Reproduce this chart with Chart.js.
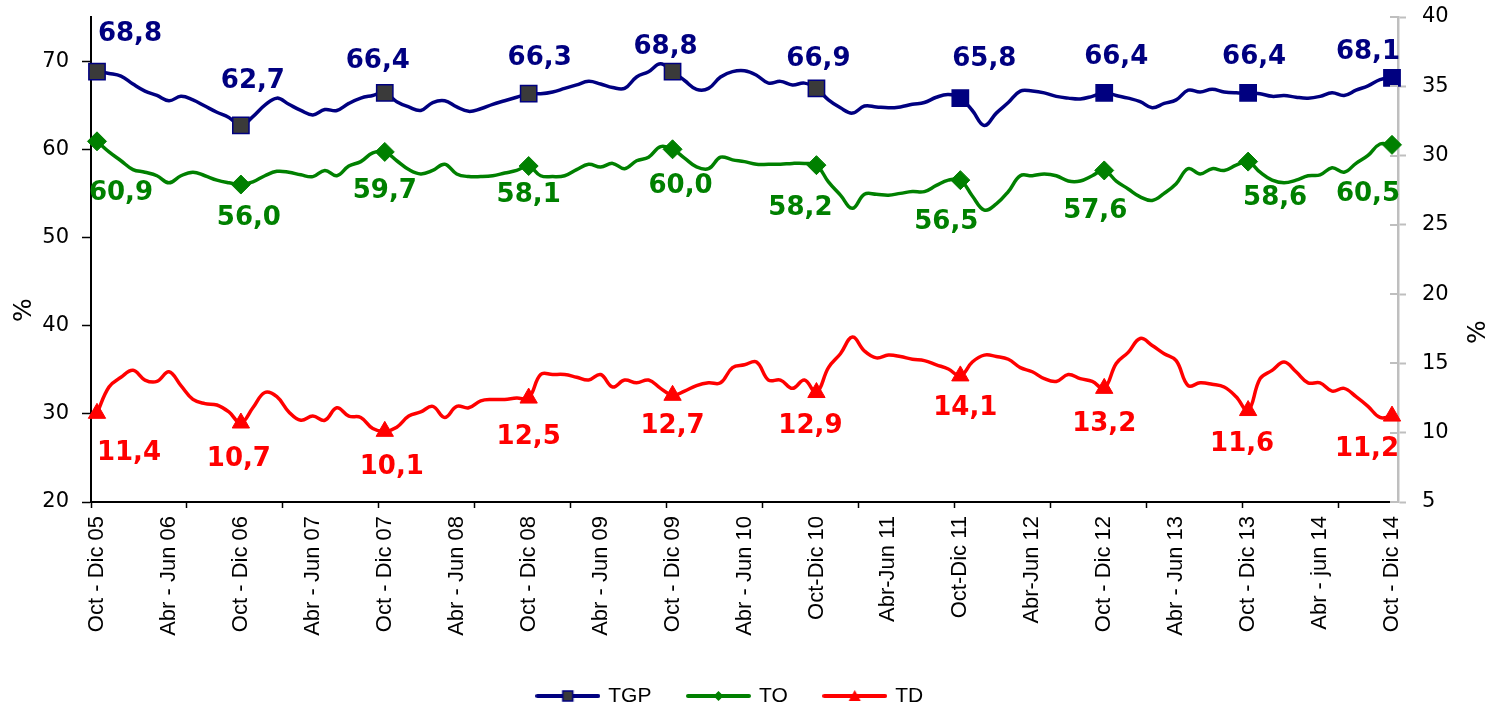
<!DOCTYPE html>
<html lang="es">
<head>
<meta charset="utf-8">
<title>TGP, TO y TD</title>
<script src="https://cdn.jsdelivr.net/npm/chart.js@4.4.1/dist/chart.umd.min.js"></script>
<style>
  html, body { margin: 0; padding: 0; background: #fff; }
  #wrap { position: relative; width: 1491px; height: 707px; }
</style>
</head>
<body>
<div id="wrap"><canvas id="chart"></canvas></div>
<script>
// Etiquetas visibles del eje X (una cada 6 trimestres móviles)
const tickLabels = [
    'Oct - Dic 05', 'Abr - Jun 06', 'Oct - Dic 06', 'Abr - Jun 07', 'Oct - Dic 07',
    'Abr - Jun 08', 'Oct - Dic 08', 'Abr - Jun 09', 'Oct - Dic 09', 'Abr - Jun 10',
    'Oct-Dic 10', 'Abr-Jun 11', 'Oct-Dic 11', 'Abr-Jun 12', 'Oct - Dic 12',
    'Abr - Jun 13', 'Oct - Dic 13', 'Abr - jun 14', 'Oct - Dic 14'
];

// Tasa global de participación (eje izquierdo)
const tgp = [
    68.8, 68.6, 68.3, 67.4, 66.6, 66.1, 65.5, 66.0, 65.6, 64.9, 64.2, 63.6,
    62.7, 63.7, 65.0, 65.8, 65.1, 64.4, 63.9, 64.5, 64.4, 65.2, 65.8, 66.1,
    66.4, 65.4, 64.8, 64.4, 65.3, 65.5, 64.8, 64.3, 64.6, 65.1, 65.5, 65.9,
    66.3, 66.3, 66.5, 66.9, 67.3, 67.7, 67.4, 67.0, 66.9, 68.2, 68.8, 69.7,
    68.8, 67.8, 66.8, 66.9, 68.2, 68.8, 68.9, 68.4, 67.5, 67.7, 67.3, 67.5,
    66.9, 65.6, 64.7, 64.1, 64.9, 64.8, 64.7, 64.8, 65.1, 65.3, 65.9, 66.2,
    65.8, 64.4, 62.7, 64.1, 65.3, 66.6, 66.6, 66.4, 66.0, 65.8, 65.7, 66.0,
    66.4, 66.1, 65.8, 65.4, 64.7, 65.2, 65.6, 66.7, 66.5, 66.8, 66.5, 66.4,
    66.4, 66.3, 66.0, 66.1, 65.9, 65.8, 66.0, 66.4, 66.1, 66.7, 67.2, 67.9,
    68.1
];

// Tasa de ocupación (eje izquierdo)
const to = [
    60.9, 59.7, 58.7, 57.7, 57.4, 57.0, 56.2, 57.0, 57.4, 57.0, 56.5, 56.2,
    56.0, 56.3, 57.0, 57.5, 57.4, 57.1, 56.9, 57.6, 57.0, 58.1, 58.6, 59.6,
    59.7, 58.7, 57.7, 57.2, 57.6, 58.3, 57.2, 56.9, 56.9, 57.0, 57.3, 57.6,
    58.1, 57.0, 56.9, 57.0, 57.7, 58.3, 58.0, 58.4, 57.8, 58.7, 59.1, 60.3,
    60.0, 59.0, 58.0, 57.8, 59.1, 58.8, 58.6, 58.3, 58.3, 58.3, 58.4, 58.4,
    58.2, 56.3, 54.8, 53.3, 54.9, 54.9, 54.8, 55.0, 55.2, 55.2, 55.9, 56.5,
    56.5, 54.7, 53.1, 53.8, 55.2, 57.0, 57.0, 57.2, 57.0, 56.4, 56.4, 57.0,
    57.6, 56.4, 55.5, 54.6, 54.2, 55.0, 56.1, 57.8, 57.2, 57.8, 57.6, 58.2,
    58.6, 57.4, 56.5, 56.2, 56.5, 57.0, 57.1, 57.9, 57.4, 58.4, 59.3, 60.6,
    60.5
];

// Tasa de desempleo (eje derecho)
const td = [
    11.4, 13.3, 14.0, 14.5, 13.8, 13.7, 14.4, 13.4, 12.4, 12.1, 12.0, 11.5,
    10.7, 11.8, 12.9, 12.6, 11.5, 10.9, 11.2, 10.9, 11.8, 11.2, 11.1, 10.3,
    10.1, 10.4, 11.2, 11.5, 11.9, 11.1, 11.9, 11.8, 12.3, 12.4, 12.4, 12.5,
    12.5, 14.2, 14.2, 14.2, 14.0, 13.8, 14.2, 13.3, 13.8, 13.6, 13.8, 13.2,
    12.7, 13.0, 13.4, 13.6, 13.6, 14.7, 14.9, 15.1, 13.8, 13.8, 13.2, 13.8,
    12.9, 14.7, 15.7, 16.9, 15.9, 15.4, 15.6, 15.5, 15.3, 15.2, 14.9, 14.6,
    14.1, 15.1, 15.6, 15.5, 15.3, 14.7, 14.4, 13.9, 13.7, 14.2, 13.9, 13.7,
    13.2, 15.0, 15.8, 16.8, 16.3, 15.7, 15.2, 13.4, 13.6, 13.5, 13.3, 12.6,
    11.6, 13.9, 14.5, 15.1, 14.4, 13.6, 13.6, 13.0, 13.2, 12.6, 11.9, 11.1,
    11.2
];

// Categorías: trimestres móviles desde Oct-Dic 2005
const months = ['Ene', 'Feb', 'Mar', 'Abr', 'May', 'Jun', 'Jul', 'Ago', 'Sep', 'Oct', 'Nov', 'Dic'];
const categories = [];
for (let i = 0; i < tgp.length; i++) {
    if (i % 6 === 0) {
        categories.push(tickLabels[i / 6]);
        continue;
    }
    const m = 9 + i;
    const yy = String(5 + Math.floor((m + 2) / 12)).padStart(2, '0');
    categories.push(months[m % 12] + ' - ' + months[(m + 2) % 12] + ' ' + yy);
}

const tgpColor = '#000080';
const toColor = '#008000';
const tdColor = '#ff0000';

// Desplazamiento de cada etiqueta de valor respecto a su marcador
const labelOffsets = [
    [[33, -37], [12, -44], [-7, -32], [11, -35], [-7, -24], [2, -29], [24, -39], [12, -36], [6, -36], [-24, -26]],
    [[24, 52], [8, 34], [0, 39], [0, 29], [8, 37], [-16, 43], [-14, 42], [-9, 41], [27, 37], [-24, 49]],
    [[32, 40], [-2, 36], [7, 36], [0, 39], [0, 31], [-6, 34], [5, 32], [0, 36], [-6, 34], [-25, 33]]
];

// Marcadores sólo en los trimestres Oct-Dic
function markerSize(size) {
    return ctx => (ctx.index % 12 === 0 ? size : 0);
}

// Icono de leyenda: línea con marcador al centro
function legendIcon(color, drawMarker) {
    const c = document.createElement('canvas');
    c.width = 65;
    c.height = 16;
    const g = c.getContext('2d');
    g.strokeStyle = color;
    g.lineWidth = 4;
    g.lineCap = 'round';
    g.beginPath();
    g.moveTo(2, 8);
    g.lineTo(63, 8);
    g.stroke();
    drawMarker(g, 32.5, 8);
    return c;
}

const legendIcons = [
    legendIcon(tgpColor, (g, x, y) => {
        g.fillStyle = '#3a3a3a';
        g.fillRect(x - 5, y - 5, 10, 10);
        g.lineWidth = 1.5;
        g.strokeStyle = tgpColor;
        g.strokeRect(x - 5, y - 5, 10, 10);
    }),
    legendIcon(toColor, (g, x, y) => {
        g.fillStyle = toColor;
        g.beginPath();
        g.moveTo(x - 5, y); g.lineTo(x, y - 5); g.lineTo(x + 5, y); g.lineTo(x, y + 5);
        g.closePath();
        g.fill();
    }),
    legendIcon(tdColor, (g, x, y) => {
        g.fillStyle = tdColor;
        g.beginPath();
        g.moveTo(x, y - 6); g.lineTo(x + 6, y + 5); g.lineTo(x - 6, y + 5);
        g.closePath();
        g.fill();
    })
];

// Etiquetas de valor, marcas interiores del eje derecho y títulos "%"
const extrasPlugin = {
    id: 'extras',
    afterLayout(chart) {
        // la leyenda queda pegada al borde inferior y algo a la izquierda, como en el original
        const lg = chart.legend;
        if (lg) {
            lg.top += 9.5;
            lg.bottom += 9.5;
            lg.left -= 15;
            lg.right -= 15;
        }
    },
    afterDatasetsDraw(chart) {
        const ctx = chart.ctx;
        ctx.save();
        ctx.font = 'bold 26px "DejaVu Sans", sans-serif';
        ctx.textAlign = 'center';
        ctx.textBaseline = 'middle';
        chart.data.datasets.forEach((ds, d) => {
            const meta = chart.getDatasetMeta(d);
            ctx.fillStyle = ds.borderColor;
            let k = 0;
            ds.data.forEach((v, i) => {
                if (i % 12 !== 0) return;
                const pt = meta.data[i];
                const off = labelOffsets[d][k++];
                ctx.fillText(v.toFixed(1).replace('.', ','), pt.x + off[0], pt.y + off[1]);
            });
        });
        ctx.restore();
    },
    afterDraw(chart) {
        const ctx = chart.ctx;
        const area = chart.chartArea;
        const y1 = chart.scales.y1;
        ctx.save();
        ctx.strokeStyle = '#bfbfbf';
        ctx.lineWidth = 2;
        y1.ticks.forEach(t => {
            const py = Math.round(y1.getPixelForValue(t.value));
            ctx.beginPath();
            ctx.moveTo(area.right - 8, py);
            ctx.lineTo(area.right, py);
            ctx.stroke();
        });

        ctx.fillStyle = '#000';
        ctx.font = '25px "DejaVu Sans", sans-serif';
        ctx.textAlign = 'center';
        ctx.textBaseline = 'middle';
        [[area.left - 67, area.top + 293], [area.right + 80, area.top + 315]].forEach(p => {
            ctx.save();
            ctx.translate(p[0], p[1]);
            ctx.rotate(-Math.PI / 2);
            ctx.fillText('%', 0, 0);
            ctx.restore();
        });
        ctx.restore();
    }
};

const tickFont = { family: '"DejaVu Sans", sans-serif', size: 21 };

// Ancho fijo del eje vertical, sin reservar espacio extra arriba/abajo
function fixAxis(width) {
    return s => {
        s.width = width;
        s.paddingTop = 0;
        s.paddingBottom = 0;
    };
}

new Chart(document.getElementById('chart'), {
    type: 'line',
    data: {
        labels: categories,
        datasets: [
            {
                label: 'TGP',
                data: tgp,
                yAxisID: 'y',
                borderColor: tgpColor,
                borderWidth: 3.5,
                tension: 0.4,
                pointStyle: 'rect',
                pointRadius: markerSize(11.5),
                pointHoverRadius: markerSize(11.5),
                pointBackgroundColor: ctx => (ctx.index < 72 ? '#3a3a3a' : tgpColor),
                pointBorderColor: tgpColor,
                pointBorderWidth: 1.5
            },
            {
                label: 'TO',
                data: to,
                yAxisID: 'y',
                borderColor: toColor,
                borderWidth: 3.5,
                tension: 0.4,
                pointStyle: 'rectRot',
                pointRadius: markerSize(9.5),
                pointHoverRadius: markerSize(9.5),
                pointBackgroundColor: toColor,
                pointBorderColor: toColor,
                pointBorderWidth: 1
            },
            {
                label: 'TD',
                data: td,
                yAxisID: 'y1',
                borderColor: tdColor,
                borderWidth: 3.5,
                tension: 0.4,
                pointStyle: 'triangle',
                pointRadius: markerSize(10),
                pointHoverRadius: markerSize(10),
                pointBackgroundColor: tdColor,
                pointBorderColor: tdColor,
                pointBorderWidth: 1
            }
        ]
    },
    options: {
        responsive: true,
        maintainAspectRatio: false,
        animation: false,
        events: [],
        layout: { padding: { top: 17, left: 0, right: 0, bottom: 0 } },
        plugins: {
            tooltip: { enabled: false },
            legend: {
                position: 'bottom',
                labels: {
                    usePointStyle: true,
                    pointStyleWidth: 60,
                    padding: 37,
                    color: '#000',
                    font: { family: '"Liberation Sans", Arial, sans-serif', size: 21 },
                    generateLabels(chart) {
                        const items = Chart.defaults.plugins.legend.labels.generateLabels(chart);
                        items.forEach((it, k) => { it.pointStyle = legendIcons[k]; });
                        return items;
                    }
                }
            }
        },
        scales: {
            x: {
                type: 'category',
                offset: true,
                border: { color: '#000', width: 2 },
                grid: {
                    offset: true,
                    drawOnChartArea: false,
                    tickLength: 6,
                    tickWidth: 1.5,
                    tickColor: ctx => (ctx.index % 8 === 0 ? '#000' : 'rgba(0,0,0,0)')
                },
                ticks: {
                    autoSkip: false,
                    minRotation: 90,
                    maxRotation: 90,
                    padding: 8,
                    color: '#000',
                    font: { family: '"Liberation Sans", Arial, sans-serif', size: 22 },
                    callback: (v, i) => (i % 6 === 0 ? categories[i] : '')
                },
                afterFit: s => { s.height = 137; }
            },
            y: {
                position: 'left',
                min: 20,
                max: 75,
                border: { color: '#000', width: 2 },
                grid: { drawOnChartArea: false, tickLength: 9, tickWidth: 1.5, tickColor: '#000' },
                ticks: { stepSize: 10, includeBounds: false, padding: 13, color: '#000', font: tickFont },
                afterFit: fixAxis(91)
            },
            y1: {
                position: 'right',
                min: 5,
                max: 40,
                border: { color: '#bfbfbf', width: 2.5 },
                grid: { drawOnChartArea: false, tickLength: 8, tickWidth: 2, tickColor: '#bfbfbf' },
                ticks: { stepSize: 5, padding: 16, color: '#000', font: tickFont },
                afterFit: fixAxis(93)
            }
        }
    },
    plugins: [extrasPlugin]
});
</script>
</body>
</html>
